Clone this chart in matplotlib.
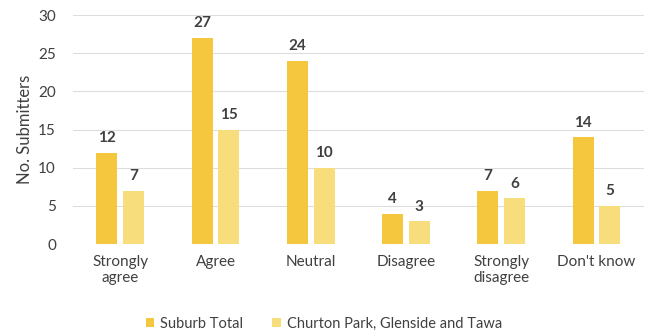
import matplotlib
matplotlib.use("Agg")
import matplotlib.pyplot as plt
import numpy as np

plt.rcParams['font.family'] = ['Lato', 'DejaVu Sans']

categories = ["Strongly\nagree", "Agree", "Neutral", "Disagree", "Strongly\ndisagree", "Don't know"]
suburb_total = [12, 27, 24, 4, 7, 14]
churton = [7, 15, 10, 3, 6, 5]
series_names = ["Suburb Total", "Churton Park, Glenside and Tawa"]
yticks = [0, 5, 10, 15, 20, 25, 30]

c1 = "#F5C73E"
c2 = "#F8DD7C"
txt = "#404040"

fig = plt.figure(figsize=(6.48, 3.34), dpi=100)
ax = fig.add_axes([0.112, 0.269, 0.882, 0.686])
x = np.arange(len(categories))
w = 0.22
off = 0.14
b1 = ax.bar(x - off, suburb_total, w, color=c1, label=series_names[0], zorder=3)
b2 = ax.bar(x + off, churton, w, color=c2, label=series_names[1], zorder=3)
for bars in (b1, b2):
    for r in bars:
        ax.text(r.get_x() + r.get_width() / 2, r.get_height() + 1.0, f"{int(r.get_height())}",
                ha="center", va="bottom", fontsize=11, color=txt, fontweight="bold")

ax.set_xlim(-0.5, len(categories) - 0.5)
ax.set_ylim(0, 30)
ax.set_yticks(yticks)
ax.set_xticks(x)
ax.set_xticklabels(categories, fontsize=11, color=txt)
ax.tick_params(axis="y", labelsize=11, colors=txt, length=0, pad=12)
ax.tick_params(axis="x", length=0, pad=8)
ax.grid(axis="y", color="#DDDDDD", linewidth=0.8, zorder=0)
for s in ax.spines.values():
    s.set_visible(False)
ax.set_ylabel("No. Submitters", fontsize=12, color=txt, labelpad=4)

fig.legend(handles=[b1, b2], labels=series_names, loc="lower center", ncol=2, frameon=False,
           bbox_to_anchor=(0.5, -0.03), fontsize=10.5, handlelength=0.6, handleheight=0.6,
           columnspacing=2.0, handletextpad=0.4, labelcolor=txt)

fig.savefig("out.png", dpi=100)
